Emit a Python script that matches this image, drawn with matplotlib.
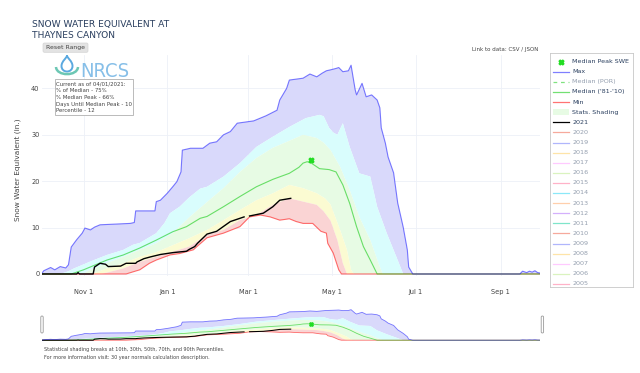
import numpy as np
import matplotlib
matplotlib.use("Agg")
import matplotlib.pyplot as plt
import matplotlib.dates as mdates
from matplotlib.patches import FancyBboxPatch, Rectangle, PathPatch
from matplotlib.path import Path
from matplotlib.transforms import Affine2D
from matplotlib import font_manager

W, H = 640, 373

# ---- data (days since Oct 1 of the water year, SWE in inches) ----
max_days = [1, 2, 7, 10, 14, 18, 20, 22, 26, 30, 32, 36, 39, 43, 65, 68, 69, 83, 84, 87, 92, 96,
            99, 102, 103, 109, 118, 123, 128, 133, 138, 143, 155, 164, 172, 174, 179, 181, 186, 191,
            196, 201, 205, 208, 211, 215, 217, 220, 224, 226, 229, 230, 234, 237, 241, 245, 247, 248,
            251, 253, 257, 260, 264, 267, 268, 271, 349, 351, 354, 356, 358, 360, 362, 364]
max_swe = [0.3, 0.7, 1.4, 0.9, 1.6, 1.3, 2.0, 5.8, 7.4, 8.8, 9.9, 9.5, 10.1, 10.6, 10.9, 11.1, 13.6,
           13.6, 15.6, 15.9, 17.4, 18.8, 19.9, 22.0, 26.7, 27.1, 27.1, 28.2, 28.5, 30.0, 30.7, 32.5,
           33.0, 34.1, 35.3, 37.5, 40.0, 41.8, 42.0, 42.2, 43.1, 42.5, 43.3, 43.8, 44.0, 44.3, 44.5,
           43.6, 43.8, 45.0, 39.7, 38.6, 41.1, 38.2, 38.6, 37.5, 35.8, 31.5, 28.2, 25.2, 21.8, 15.3,
           10.1, 5.2, 1.5, 0.0, 0.0, 0.6, 0.3, 0.6, 0.4, 0.7, 0.3, 0.2]

p90_days = [1, 14, 20, 24, 36, 48, 60, 67, 72, 84, 90, 94, 101, 108, 116, 121, 133, 145, 157, 169,
            181, 193, 203, 206, 210, 213, 216, 220, 225, 232, 240, 245, 252, 259, 264, 364]
p90 = [0, 0, 0.6, 1.2, 2.7, 4.1, 5.2, 6.3, 6.7, 8.8, 11.0, 13.1, 14.5, 16.5, 18.4, 18.8, 21.0, 23.9,
       27.4, 29.6, 31.7, 33.6, 34.3, 34.0, 31.5, 30.5, 30.0, 32.5, 27.4, 21.7, 21.0, 14.5, 8.8, 3.7,
       0, 0]

p70_days = [1, 30, 36, 48, 60, 72, 84, 96, 108, 121, 133, 145, 157, 169, 181, 191, 201, 206, 211,
            218, 225, 232, 240, 246, 249, 364]
p70 = [0, 0, 0.9, 2.3, 3.7, 5.2, 6.6, 8.8, 12.2, 15.5, 18.5, 22.0, 25.0, 27.2, 28.7, 30.0, 29.3,
       28.3, 26.7, 23.1, 18.1, 12.3, 7.3, 2.3, 0, 0]

med_days = [1, 22, 24, 31, 48, 60, 72, 84, 96, 106, 116, 121, 133, 145, 157, 169, 181, 188, 191,
            194, 197, 203, 210, 215, 220, 225, 230, 235, 240, 245, 364]
median = [0, 0, 0.2, 0.9, 3.0, 4.1, 5.6, 7.3, 9.1, 10.2, 12.0, 12.4, 14.5, 16.7, 18.8, 20.4, 21.7,
          23.0, 23.9, 24.2, 23.9, 22.7, 22.5, 22.0, 19.2, 15.2, 10.2, 5.9, 3.0, 0, 0]

p30_days = [1, 36, 40, 48, 60, 72, 84, 96, 108, 121, 133, 145, 157, 169, 181, 191, 201, 207, 211,
            218, 223, 226, 228, 364]
p30 = [0, 0, 0.3, 1.2, 2.3, 3.7, 4.7, 6.2, 7.7, 9.5, 11.6, 13.8, 15.9, 17.4, 19.2, 18.5, 17.4, 16.3,
       15.0, 9.5, 5.2, 0.9, 0, 0]

p10_days = [1, 44, 48, 60, 72, 84, 96, 108, 121, 133, 145, 157, 169, 181, 191, 201, 206, 211, 216,
            220, 223, 364]
p10 = [0, 0, 0.3, 1.2, 2.6, 3.7, 4.8, 5.9, 8.4, 9.5, 11.6, 12.7, 14.9, 16.3, 15.6, 14.9, 13.5, 11.5,
       7.3, 2.3, 0, 0]

min_days = [1, 62, 72, 79, 84, 94, 101, 111, 114, 121, 133, 145, 152, 160, 167, 174, 181, 186, 191,
            198, 204, 208, 209, 213, 217, 219, 364]
min_swe = [0, 0, 0.9, 2.3, 3.0, 4.1, 4.4, 5.2, 6.0, 7.8, 8.8, 10.2, 12.3, 12.7, 12.3, 11.6, 11.9,
           11.3, 10.9, 10.9, 9.2, 8.8, 6.6, 4.5, 0.9, 0, 0]

wy2021_days = [1, 26, 27, 28, 38, 39, 43, 47, 49, 58, 62, 69, 70, 75, 80, 87, 96, 106, 108, 112,
               114, 121, 128, 138, 148, 151, 152, 162, 169, 174, 182]
wy2021 = [0, 0, 0.3, 0, 0, 1.5, 2.3, 2.1, 1.6, 1.7, 2.3, 2.3, 2.6, 3.3, 3.7, 4.2, 4.6, 4.9, 5.3, 5.9,
          6.6, 8.6, 9.2, 11.3, 12.3, np.nan, 12.5, 13.1, 14.5, 15.9, 16.3]

peak_day = [197]
peak_swe = [24.6]

info_lines = ["Current as of 04/01/2021:", "% of Median - 75%", "% Median Peak - 66%",
              "Days Until Median Peak - 10", "Percentile - 12"]

legend_labels = ["Median Peak SWE", "Max", "Median (POR)", "Median ('81-'10)", "Min", "Stats. Shading",
                 "2021", "2020", "2019", "2018", "2017", "2016", "2015", "2014", "2013", "2012", "2011",
                 "2010", "2009", "2008", "2007", "2006", "2005"]
year_colors = ["#EF553B", "#636efa", "#FECB52", "#FF97FF", "#B6E880", "#FF6692", "#19d3f3", "#FFA15A",
               "#ab63fa", "#00cc96", "#EF553B", "#636efa", "#FECB52", "#FF97FF", "#B6E880", "#FF6692"]

# ---- style ----
C_MAX = (0, 0, 1, 0.5)
C_MED = (0, 0.78, 0, 0.55)
C_MIN = (1, 0, 0, 0.55)
F_MAX = "#d9d9fb"
F_P90 = "#d9fdfd"
F_MID = "#e7fbe4"
F_P30 = "#fbfbd2"
F_MIN = "#fad4d4"
TXT = "#2a3f5f"
GREY = "#444444"

base = mdates.date2num(np.datetime64("2020-10-01"))


def xd(days):
    return base + np.asarray(days, dtype=float)


def band(ax, lo_d, lo_v, hi_d, hi_v, color):
    xs = np.concatenate([xd(hi_d), xd(lo_d)[::-1]])
    ys = np.concatenate([np.asarray(hi_v, float), np.asarray(lo_v, float)[::-1]])
    ax.fill(xs, ys, color=color, lw=0)


def draw_chart(ax, lw, ms):
    band(ax, p90_days, p90, max_days, max_swe, F_MAX)
    band(ax, p70_days, p70, p90_days, p90, F_P90)
    band(ax, p30_days, p30, p70_days, p70, F_MID)
    band(ax, p10_days, p10, p30_days, p30, F_P30)
    band(ax, min_days, min_swe, p10_days, p10, F_MIN)
    ax.plot(xd(min_days), min_swe, color=C_MIN, lw=lw)
    ax.plot(xd(med_days), median, color=C_MED, lw=lw)
    ax.plot(xd(wy2021_days), wy2021, color="black", lw=lw * 1.25)
    ax.plot(xd(max_days), max_swe, color=C_MAX, lw=lw)
    ax.plot(xd(peak_day), peak_swe, ls="none", marker="X", ms=ms, color="#22dd22", mec="#22dd22")
    ax.set_xlim(base + 1, base + 364)


fig = plt.figure(figsize=(W / 100, H / 100), dpi=100)
px = Affine2D().scale(1 / W, -1 / H).translate(0, 1) + fig.transFigure


def box(l, t, r, b):
    return [l / W, 1 - b / H, (r - l) / W, (b - t) / H]


# main chart
ax = fig.add_axes(box(42.4, 55, 540.4, 276.3))
draw_chart(ax, 0.8, 3.5)
ax.set_ylim(-0.5, 47.2)
ax.set_yticks([0, 10, 20, 30, 40])
ax.xaxis.set_major_locator(mdates.MonthLocator(bymonth=[11, 1, 3, 5, 7, 9]))
ax.xaxis.set_major_formatter(plt.FuncFormatter(
    lambda v, p: mdates.num2date(v).strftime("%b") + " " + str(mdates.num2date(v).day)))
ax.tick_params(length=0, labelsize=4.8, colors=GREY)
ax.tick_params(axis="y", pad=2)
ax.tick_params(axis="x", pad=9)
ax.grid(True, color="#edf0f7", lw=0.6)
ax.set_axisbelow(True)
for s in ax.spines.values():
    s.set_visible(False)

fig.text(18, 170, "Snow Water Equivalent (in.)", transform=px, rotation=90, ha="center", va="center",
         fontsize=5.3, color=GREY)

# range slider
sl = fig.add_axes(box(42.4, 306, 540.4, 341.5))
draw_chart(sl, 0.6, 2.6)
sl.set_ylim(-1.9, 50.4)
sl.axis("off")
for hx in (40.8, 541.2):
    fig.add_artist(FancyBboxPatch((hx, 316), 2.4, 17, boxstyle="round,pad=0,rounding_size=1.2",
                                  transform=px, fc="white", ec="#999999", lw=0.6))

# title and notes
fig.text(32.3, 26.7, "SNOW WATER EQUIVALENT AT", transform=px, fontsize=6.6, color=TXT, va="baseline")
fig.text(32.3, 37.7, "THAYNES CANYON", transform=px, fontsize=6.6, color=TXT, va="baseline")
fig.add_artist(FancyBboxPatch((43, 43), 45, 9.3, boxstyle="round,pad=0,rounding_size=1.5",
                              transform=px, fc="#e3e3e3", ec="#d4d4d4", lw=0.5))
fig.text(65.5, 47.8, "Reset Range", transform=px, fontsize=4.4, color=GREY, ha="center", va="center")
fig.text(538, 49, "Link to data: CSV / JSON", transform=px, fontsize=4.0, color=GREY, ha="right",
         va="center")
fig.text(44, 349.7, "Statistical shading breaks at 10th, 30th, 50th, 70th, and 90th Percentiles.",
         transform=px, fontsize=3.5, color=GREY, va="center")
fig.text(44, 357.9, "For more information visit: 30 year normals calculation description.",
         transform=px, fontsize=3.5, color=GREY, va="center")

# NRCS logo
drop = Path([(67, 55.5), (67, 58), (61.5, 61), (61.5, 66), (61.5, 69.5), (64, 71.5), (67, 71.5),
             (70, 71.5), (72.5, 69.5), (72.5, 66), (72.5, 61), (67, 58), (67, 55.5)],
            [Path.MOVETO] + [Path.CURVE4] * 12)
fig.add_artist(PathPatch(drop, transform=px, fc="none", ec="#5aa9e0", lw=1.4))
smile = Path([(56, 67), (56.5, 76.5), (77.5, 76.5), (78, 67)],
             [Path.MOVETO, Path.CURVE4, Path.CURVE4, Path.CURVE4])
fig.add_artist(PathPatch(smile, transform=px, fc="none", ec="#6cc7b4", lw=1.8))
names = {f.name for f in font_manager.fontManager.ttflist}
if "Liberation Sans Narrow" in names:
    fig.text(80, 77, "NRCS", transform=px, fontsize=17, family="Liberation Sans Narrow",
             color="#86bfe8", va="baseline")
else:
    fig.text(80, 77, "NRCS", transform=px, fontsize=14.5, family="DejaVu Sans", fontstretch="condensed",
             fontweight="light", color="#86bfe8", va="baseline")

# info box
fig.add_artist(Rectangle((55, 79.3), 78.3, 35.7, transform=px, fc="white", ec="#b0b0b0", lw=0.6))
for i, line in enumerate(info_lines):
    fig.text(56.5, 84 + i * 6.75, line, transform=px, fontsize=3.9, color=GREY, va="center")

# legend
lg = fig.add_axes(box(550, 53.3, 633, 287))
lg.set_xlim(550, 633)
lg.set_ylim(287, 53.3)
lg.set_xticks([])
lg.set_yticks([])
for s in lg.spines.values():
    s.set_color("#c8c8c8")
    s.set_linewidth(0.6)
for i, lab in enumerate(legend_labels):
    y = 61.7 + 10.1 * i
    hidden = lab == "Median (POR)" or (lab.isdigit() and lab != "2021")
    if lab == "Median Peak SWE":
        lg.plot([561], [y], ls="none", marker="X", ms=3.5, color="#22dd22")
    elif lab == "Max":
        lg.plot([553, 569], [y, y], color=C_MAX, lw=0.9)
    elif lab == "Median (POR)":
        lg.plot([553, 569], [y, y], color=C_MED, lw=0.9, ls=(0, (3, 3)), alpha=0.5)
    elif lab == "Median ('81-'10)":
        lg.plot([553, 569], [y, y], color=C_MED, lw=0.9)
    elif lab == "Min":
        lg.plot([553, 569], [y, y], color=C_MIN, lw=0.9)
    elif lab == "Stats. Shading":
        lg.add_patch(Rectangle((553, y - 3), 16, 6, fc=F_MID, ec="none"))
    elif lab == "2021":
        lg.plot([553, 569], [y, y], color="black", lw=0.9)
    else:
        lg.plot([553, 569], [y, y], color=year_colors[i - 7], lw=0.9, alpha=0.5)
    lg.text(572.3, y, lab, fontsize=4.6, color=TXT, alpha=0.5 if hidden else 1.0, va="center",
            clip_on=True)

fig.savefig("out.png", dpi=100)
